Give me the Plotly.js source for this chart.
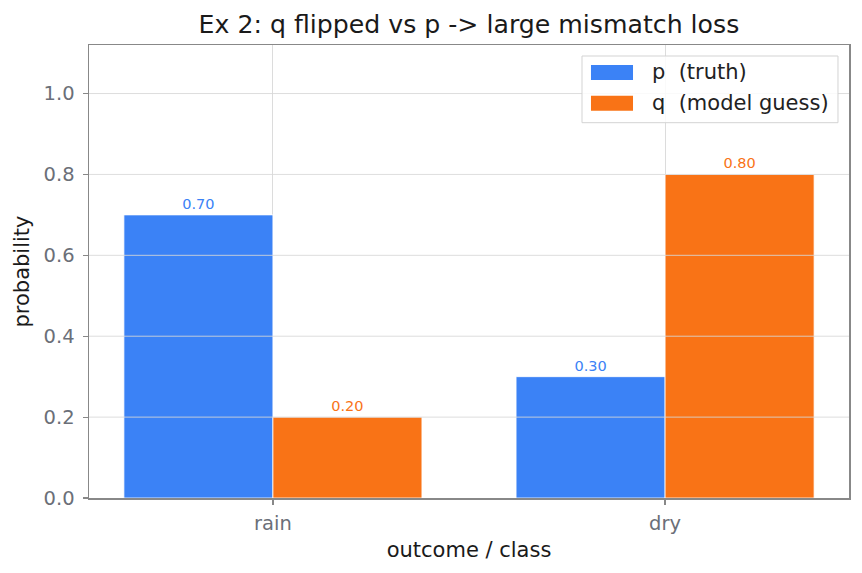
<!DOCTYPE html>
<html>
<head>
<meta charset="utf-8">
<script src="https://cdn.plot.ly/plotly-3.0.1.min.js"></script>
<style>
  html, body { margin: 0; padding: 0; background: #fff; }
  #chart { width: 862px; height: 573px; }
</style>
</head>
<body>
<div id="chart"></div>
<script>
// Outcome classes and the two distributions being compared
const classes = ['rain', 'dry'];
const pTruth = [0.70, 0.30];
const qGuess = [0.20, 0.80];
const seriesNames = ['p  (truth)', 'q  (model guess)'];
const yTicks = [0.0, 0.2, 0.4, 0.6, 0.8, 1.0];

const BLUE = '#3b82f6';
const ORANGE = '#f97316';
const FONT = 'DejaVu Sans, sans-serif';
const TICK_GREY = '#6b6f78';
const SPINE = '#888888';

const seriesValues = [pTruth, qGuess];
const seriesColors = [BLUE, ORANGE];

const traces = seriesValues.map((vals, i) => ({
  type: 'bar', name: seriesNames[i], x: classes, y: vals,
  marker: { color: seriesColors[i], line: { color: '#ffffff', width: 0.8 } },
  texttemplate: '%{y:.2f}', textposition: 'outside', cliponaxis: false,
  textfont: { color: seriesColors[i], size: 14.5, family: FONT },
  hoverinfo: 'x+y'
}));

// horizontal grid drawn over the bars
const shapes = yTicks.slice(1).map(v => ({
  type: 'line', xref: 'paper', yref: 'y', x0: 0, x1: 1, y0: v, y1: v,
  layer: 'above', line: { color: 'rgba(215,215,215,0.85)', width: 1 }
}));

// legend panel in the upper right: frame, wide colour patches, labels
const annotations = [];
const LEG = { x0: 0.6487, x1: 0.9855, y0: 0.8285, y1: 0.9757 };
shapes.push({
  type: 'rect', xref: 'paper', yref: 'paper', layer: 'above',
  x0: LEG.x0, x1: LEG.x1, y0: LEG.y0, y1: LEG.y1,
  fillcolor: 'rgba(255,255,255,0.85)', line: { color: '#d3d3d3', width: 1 }
});
const rowCenters = [0.9393, 0.8713];
seriesNames.forEach((name, i) => {
  const yc = rowCenters[i];
  shapes.push({
    type: 'rect', xref: 'paper', yref: 'paper', layer: 'above',
    x0: 0.6605, x1: 0.7158, y0: yc - 0.0166, y1: yc + 0.0166,
    fillcolor: seriesColors[i], line: { width: 0 }
  });
  annotations.push({
    xref: 'paper', yref: 'paper', x: 0.7382, y: yc,
    xanchor: 'left', yanchor: 'middle', showarrow: false,
    text: name, font: { size: 21, color: '#222222', family: FONT }
  });
});

const layout = {
  width: 862, height: 573,
  margin: { l: 89, r: 13, t: 45, b: 75 },
  paper_bgcolor: '#ffffff', plot_bgcolor: '#ffffff',
  font: { family: FONT, color: '#222222' },
  title: {
    text: 'Ex 2: q flipped vs p -> large mismatch loss',
    font: { size: 25.2, color: '#1a1a1a', family: FONT },
    x: 0.544, xanchor: 'center', y: 0.958, yanchor: 'middle'
  },
  barmode: 'group', bargap: 0.24, bargroupgap: 0,
  showlegend: false,
  xaxis: {
    type: 'category', range: [-0.469, 1.469],
    showgrid: true, gridcolor: '#dcdcdc', gridwidth: 1,
    showline: true, linecolor: SPINE, linewidth: 1.5, mirror: true,
    ticks: 'outside', ticklen: 5, tickcolor: SPINE, tickwidth: 1.2,
    ticklabelstandoff: 2,
    tickfont: { size: 19.5, color: TICK_GREY, family: FONT },
    title: { text: 'outcome / class', font: { size: 21, color: '#1a1a1a', family: FONT }, standoff: 8 },
    zeroline: false
  },
  yaxis: {
    range: [0, 1.12], tickvals: yTicks, tickformat: '.1f',
    showgrid: false,
    showline: true, linecolor: SPINE, linewidth: 1.5, mirror: true,
    ticks: 'outside', ticklen: 5, tickcolor: SPINE, tickwidth: 1.2,
    ticklabelstandoff: 4,
    tickfont: { size: 19.5, color: TICK_GREY, family: FONT },
    title: { text: 'probability', font: { size: 21, color: '#1a1a1a', family: FONT }, standoff: 8 },
    zeroline: false
  },
  shapes: shapes,
  annotations: annotations
};

Plotly.newPlot('chart', traces, layout, { displayModeBar: false, staticPlot: true });
</script>
</body>
</html>
